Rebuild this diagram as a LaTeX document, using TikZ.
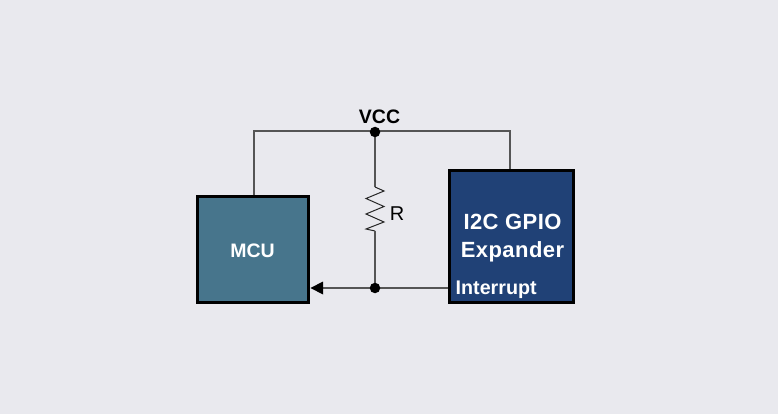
\documentclass[tikz,border=0pt]{standalone}
\usepackage{fontspec}
\setmainfont{Liberation Sans}
\newfontfamily\spacedsans[LetterSpace=2]{Liberation Sans}
\definecolor{bgc}{HTML}{E9E9EE}
\definecolor{mcuc}{HTML}{47758C}
\definecolor{expc}{HTML}{204176}
\definecolor{wirec}{HTML}{555555}
\tikzset{
  blockbox/.style={draw=black,line width=2.7pt,inner sep=0pt,anchor=north west},
  wire/.style={draw=wirec,line width=1.2pt},
  dotn/.style={circle,fill=black,draw=none,minimum size=10.5pt,inner sep=0pt},
  boxtext/.style={text=white,font=\spacedsans\bfseries\fontsize{22}{28}\selectfont,align=center},
  smalltext/.style={text=white,font=\bfseries\fontsize{19.7}{24}\selectfont},
}
\begin{document}
\begin{tikzpicture}[x=1pt,y=-1pt]
\useasboundingbox[fill=bgc] (0,0) rectangle (778,414);
\coordinate (tl) at (254,131);
\coordinate (tr) at (510,131);
\coordinate (ml) at (254,196);
\coordinate (mr) at (510,170.5);
\coordinate (rt) at (375,187);
\coordinate (rb) at (375,231);
\coordinate (jt) at (375,131);
\coordinate (jb) at (375,288);
\draw[wire] (ml) -- (tl) -- (tr) -- (mr);
\draw[wire] (jt) -- (rt);
\draw[draw=black!85,line width=1pt,line join=miter] (rt) -- (384,191) -- (366,198.5) -- (384,206.5) -- (366,214) -- (384,222) -- (366,229) -- (rb);
\draw[wire] (rb) -- (jb);
\node[blockbox,line width=3pt,fill=mcuc,minimum width=111pt,minimum height=106pt] (mcu) at (195.5,194.5) {};
\node[blockbox,fill=expc,minimum width=124pt,minimum height=132pt] (exp) at (448.3,169.3) {};
\draw[wire,line width=1.5pt] (exp.west |- jb) -- (jb) -- (323,288);
\fill[black] (310.5,288) -- (323,281.5) -- (323,294.5) -- cycle;
\node[boxtext,font=\bfseries\fontsize{19.5}{24}\selectfont] (mcul) at (252.5,250.5) {MCU};
\node[boxtext] (expl) at (512.5,238) {I2C GPIO\\Expander};
\node[smalltext,anchor=west,inner sep=0pt] (intl) at (455.5,290) {Interrupt};
\node[dotn] (top) at (375,132) {};
\node[dotn] (bot) at (375,288) {};
\node[font=\bfseries\fontsize{19.5}{24}\selectfont,inner sep=0pt] (vcc) at (379.5,116.5) {VCC};
\node[font=\fontsize{20}{24}\selectfont,inner sep=0pt] (rl) at (397,214) {R};
\end{tikzpicture}
\end{document}
